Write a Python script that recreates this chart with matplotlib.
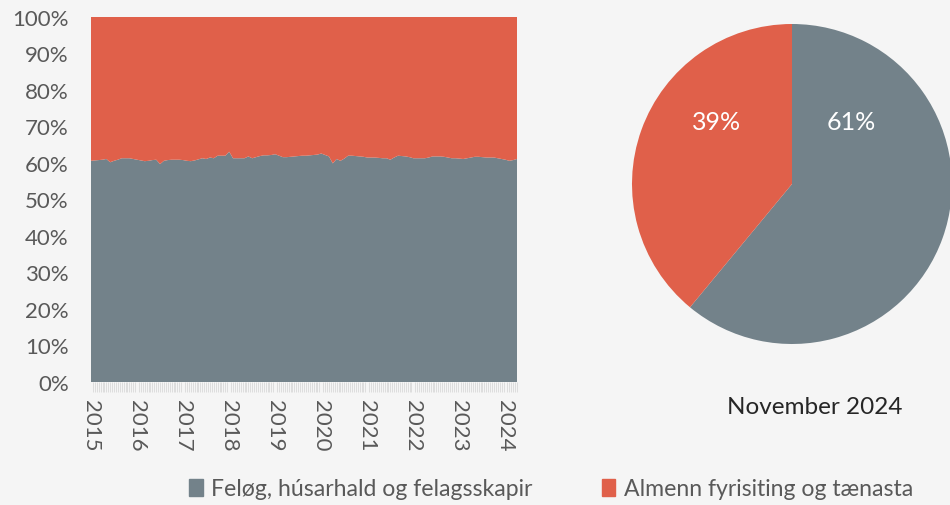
import numpy as np
import matplotlib.pyplot as plt
from matplotlib.patches import Patch

# --- Data ---
years = ['2015', '2016', '2017', '2018', '2019', '2020', '2021', '2022', '2023', '2024']
# share (%) of "Feløg, húsarhald og felagsskapir", monthly from Jan 2015
share_household = [
    60.6, 60.7, 60.8, 60.9, 61.1, 60.2, 60.6, 60.9, 61.3, 61.3, 61.3, 61.1,
    60.9, 60.7, 60.5, 60.6, 60.8, 60.9, 59.7, 60.6, 60.8, 60.9, 60.9, 60.9,
    60.8, 60.6, 60.5, 60.7, 61.0, 61.3, 61.1, 61.5, 61.3, 62.0, 62.0, 62.0,
    63.1, 61.3, 61.3, 61.3, 61.3, 61.8, 61.3, 61.6, 61.9, 62.1, 62.1, 62.2,
    62.4, 62.0, 61.6, 61.6, 61.7, 61.8, 61.9, 62.0, 62.0, 62.1, 62.2, 62.3,
    62.6, 62.2, 61.8, 59.9, 61.1, 60.6, 61.2, 62.0, 62.0, 61.9, 61.8, 61.7,
    61.5, 61.5, 61.5, 61.4, 61.3, 61.3, 60.9, 61.5, 62.0, 61.9, 61.8, 61.6,
    61.3, 61.3, 61.3, 61.3, 61.5, 61.8, 61.8, 61.8, 61.7, 61.5, 61.3, 61.3,
    61.2, 61.1, 61.3, 61.5, 61.7, 61.7, 61.6, 61.5, 61.5, 61.5, 61.3, 61.1,
    60.9, 60.6, 60.8, 61.1,
]
pie_labels = ['Feløg, húsarhald og felagsskapir', 'Almenn fyrisiting og tænasta']
pie_values = [61, 39]
pie_title = 'November 2024'

GRAY = '#73828A'
RED = '#E0604A'
BG = '#F5F5F5'
TXT = '#595959'

plt.rcParams['font.family'] = ['Lato', 'DejaVu Sans']

fig = plt.figure(figsize=(9.5, 5.06), dpi=100, facecolor=BG)

# --- Stacked 100% area ---
ax = fig.add_axes([91 / 950, 123 / 506, 426 / 950, 365 / 506], facecolor=BG)
x = np.arange(len(share_household))
lower = np.array(share_household)
ax.stackplot(x, lower, 100 - lower, colors=[GRAY, RED], linewidth=0)
ax.set_xlim(0, len(x) - 1)
ax.set_ylim(0, 100)
ax.set_yticks(np.arange(0, 101, 10))
ax.set_yticklabels([f'{v}%' for v in range(0, 101, 10)])
ax.set_xticks(np.arange(0, len(years) * 12, 12))
ax.set_xticklabels(years, rotation=270)
ax.set_xticks(np.arange(0, len(x) - 0.5, 0.5), minor=True)
ax.tick_params(axis='y', length=0, labelsize=16, labelcolor=TXT, pad=16)
ax.tick_params(axis='x', which='major', length=0, labelsize=16, labelcolor=TXT, pad=12)
ax.tick_params(axis='x', which='minor', length=7, width=0.6, color='#D9D9D9')
for s in ax.spines.values():
    s.set_visible(False)

# --- Pie ---
r = 160
axp = fig.add_axes([(792 - r) / 950, (506 - 185 - r) / 506, 2 * r / 950, 2 * r / 506])
axp.pie(pie_values, colors=[GRAY, RED], startangle=90, counterclock=False,
        wedgeprops=dict(linewidth=0))
axp.set_aspect('auto')
axp.set_xlim(-1, 1)
axp.set_ylim(-1, 1)
axp.text(0.37, 0.39, f'{pie_values[0]}%', color='white', fontsize=18, ha='center', va='center')
axp.text(-0.47, 0.39, f'{pie_values[1]}%', color='white', fontsize=18, ha='center', va='center')
fig.text(815 / 950, 1 - 408 / 506, pie_title, fontsize=17.5, color='#262626', ha='center', va='center')

# --- Legend ---
handles = [Patch(color=GRAY), Patch(color=RED)]
fig.legend(handles, pie_labels, loc='center', bbox_to_anchor=(0.58, 1 - 490 / 506), ncol=2,
           frameon=False, prop={'size': 16.6},
           handlelength=0.6, handleheight=0.8, handletextpad=0.35,
           columnspacing=3.0, labelcolor=TXT)

fig.savefig('out.png', dpi=100, facecolor=BG)
